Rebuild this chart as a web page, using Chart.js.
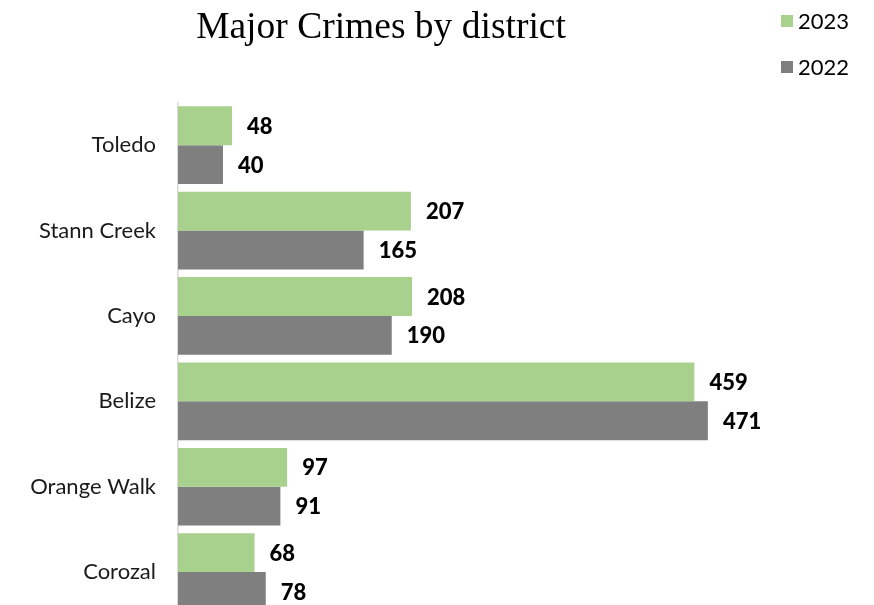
<!DOCTYPE html>
<html>
<head>
<meta charset="utf-8">
<script src="https://cdn.jsdelivr.net/npm/chart.js@4/dist/chart.umd.min.js"></script>
<style>
  html, body { margin: 0; padding: 0; background: #fff; overflow: hidden; }
  canvas { display: block; }
</style>
</head>
<body>
<canvas id="barChart" width="874" height="650"></canvas>
<script>
const districts = ["Toledo", "Stann Creek", "Cayo", "Belize", "Orange Walk", "Corozal"];
const crimes2023 = [48, 207, 208, 459, 97, 68];
const crimes2022 = [40, 165, 190, 471, 91, 78];
const seriesNames = ["2023", "2022"];
const chartTitle = "Major Crimes by district";

// value labels to the right of each bar
const valueLabels = {
  id: 'valueLabels',
  afterDatasetsDraw(chart) {
    const ctx = chart.ctx;
    ctx.save();
    ctx.font = '900 22px Lato';
    ctx.fillStyle = '#000';
    ctx.textAlign = 'left';
    ctx.textBaseline = 'middle';
    chart.data.datasets.forEach((ds, i) => {
      chart.getDatasetMeta(i).data.forEach((bar, j) => {
        ctx.fillText(ds.data[j], bar.x + 15, bar.y + 1);
      });
    });
    ctx.restore();
  }
};

// title and legend block at the top
const header = {
  id: 'header',
  afterDraw(chart) {
    const ctx = chart.ctx;
    ctx.save();
    ctx.fillStyle = '#000';
    ctx.font = '37.5px "Liberation Serif"';
    ctx.textAlign = 'center';
    ctx.textBaseline = 'alphabetic';
    ctx.fillText(chartTitle, 381, 38);

    ctx.font = '22px Lato';
    ctx.textAlign = 'left';
    ctx.textBaseline = 'middle';
    chart.data.datasets.forEach((ds, i) => {
      const y = 21 + i * 46;
      ctx.fillStyle = ds.backgroundColor;
      ctx.fillRect(781, y - 6, 12, 12);
      ctx.fillStyle = '#000';
      ctx.fillText(ds.label, 798, y + 1);
    });
    ctx.restore();
  }
};

const data = {
  labels: districts,
  datasets: [{
    label: seriesNames[0],
    data: crimes2023,
    backgroundColor: '#a9d18e'
  }, {
    label: seriesNames[1],
    data: crimes2022,
    backgroundColor: '#7f7f7f'
  }]
};

const config = {
  type: 'bar',
  data: data,
  options: {
    indexAxis: 'y',
    responsive: false,
    animation: false,
    categoryPercentage: 0.91,
    barPercentage: 1.0,
    layout: {
      padding: { top: 102.5, bottom: 7.5, left: 0, right: 21 }
    },
    scales: {
      x: {
        display: false,
        min: 0,
        max: 600
      },
      y: {
        afterFit(scale) { scale.width = 178; },
        grid: { display: false, drawTicks: false },
        border: { display: true, color: '#d9d9d9', width: 1.5 },
        ticks: {
          color: '#1a1a1a',
          padding: 22,
          font: { family: 'Lato', size: 22 }
        }
      }
    },
    plugins: {
      legend: { display: false },
      title: { display: false },
      tooltip: { enabled: false }
    }
  },
  plugins: [valueLabels, header]
};

var barChart = new Chart(document.getElementById('barChart'), config);
</script>
</body>
</html>
